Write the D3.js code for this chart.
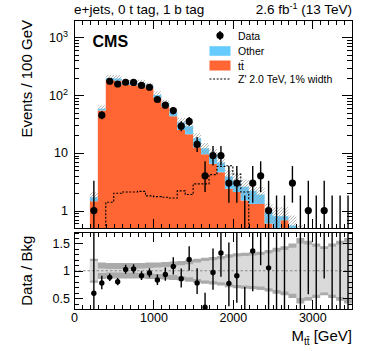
<!DOCTYPE html>
<html><head><meta charset="utf-8">
<script src="https://cdn.jsdelivr.net/npm/d3@7"></script>
<style>body{margin:0;background:#fff}svg{display:block}text{font-family:"Liberation Sans",Arial,Helvetica,sans-serif}</style>
</head><body><div id="chart"></div>
<script>
// ---- data (bins of 100 GeV, lower edges) ----
const binLow = [200,300,400,500,600,700,800,900,1000,1100,1200,1300,1400,1500,1600,1700,1800,1900,2000,2100,2200,2300,2400,2500,2600,2700,2800,2900,3000,3100,3200,3300,3400];
const binWidth = 100;
const dataCounts = [1,45,174,156,167,166,147,137,84,67,54,29,35,14,4,9,9,3,3,0,3,4,1,0,0,3,0,1,0,1,0,0,0];
const ttbar = [1.45,54,182,178,150,148,149,131,90,63,43,25,21,12.5,9.5,6.5,4.6,2.4,2.1,1.5,1.3,1.3,0.6,0.3,0.68,0.2,0.1,0.05,0.05,0.05,0.05,0.05,0.04];
const other = [0.25,4,16,17,13,13,13,12,11,9,7,9,8,5.5,2.5,2.8,2.2,1.5,1.2,1.1,0.9,0.6,0.35,0.5,0.12,0.35,0.25,0.25,0.2,0.15,0.13,0.1,0.08];
const zprime = [0.05,0.3,1.4,2.0,2.1,2.1,2.15,1.8,1.75,1.7,1.65,2.2,1.9,2.9,2.9,4.2,5.8,6.0,4.3,2.1,0.3,0.1,0.05,0.03,0.02,0.02,0.01,0.01,0.01,0.01,0.01,0.01,0.01];
const uncOuter = [0.22,0.15,0.14,0.14,0.14,0.14,0.14,0.15,0.15,0.16,0.17,0.18,0.2,0.22,0.24,0.25,0.27,0.3,0.32,0.33,0.34,0.35,0.38,0.42,0.45,0.5,0.6,0.55,0.5,0.45,0.5,0.55,0.6];
const uncInner = [0.18,0.04,0.03,0.03,0.03,0.03,0.04,0.05,0.06,0.07,0.08,0.1,0.12,0.15,0.18,0.19,0.21,0.24,0.26,0.27,0.28,0.29,0.32,0.35,0.38,0.42,0.5,0.48,0.44,0.4,0.44,0.48,0.52];
const xMajorTicks = [0,1000,2000,3000];
const yMainLabels = [1,10,100,1000];
const yRatioLabels = [0.5,1,1.5];
const legendLabels = ["Data","Other","t\u0074\u0304","Z' 2.0 TeV, 1% width"];

const colTT = "#ff6633", colOther = "#66ccff";
const W = 374, H = 351;
const total = ttbar.map((t,i)=>t+other[i]);

const svg = d3.select("#chart").append("svg").attr("width",W).attr("height",H);
const defs = svg.append("defs");
const pat = defs.append("pattern").attr("id","hatch").attr("patternUnits","userSpaceOnUse").attr("width",3).attr("height",3);
pat.append("path").attr("d","M-1,1 l2,-2 M0,3 l3,-3 M2,4 l2,-2").attr("stroke","#999").attr("stroke-width",0.7);

const L=74,R=352,T=20,B=228,RT=232.5,RB=309;
const x = d3.scaleLinear().domain([0,3500]).range([L,R]);
const yM = d3.scaleLog().domain([0.5,2000]).range([B,T]);
const yR = d3.scaleLinear().domain([0.3,1.7]).range([RB,RT]);

defs.append("clipPath").attr("id","cm").append("rect").attr("x",L).attr("y",T).attr("width",R-L).attr("height",B-T);
defs.append("clipPath").attr("id","cr").append("rect").attr("x",L).attr("y",RT).attr("width",R-L).attr("height",RB-RT);

const steps = arr => { const p = binLow.map((b,i)=>({x:b, v:arr[i], i})); p.push({x:binLow[binLow.length-1]+binWidth, v:arr[arr.length-1], i:arr.length-1}); return p; };
const yc = v => yM(Math.max(v,0.01));

const gm = svg.append("g").attr("clip-path","url(#cm)");
// ttbar
gm.append("path").datum(steps(ttbar)).attr("fill",colTT)
  .attr("d", d3.area().curve(d3.curveStepAfter).x(d=>x(d.x)).y0(B+5).y1(d=>yc(d.v)));
// other
gm.append("path").datum(steps(total)).attr("fill",colOther)
  .attr("d", d3.area().curve(d3.curveStepAfter).x(d=>x(d.x)).y0(d=>yc(ttbar[d.i])).y1(d=>yc(d.v)));
// hatched uncertainty
gm.append("path").datum(steps(total)).attr("fill","url(#hatch)")
  .attr("d", d3.area().curve(d3.curveStepAfter).x(d=>x(d.x))
     .y0(d=>yc(Math.max(ttbar[d.i], d.v*(1-uncOuter[d.i])))).y1(d=>yc(d.v*(1+uncOuter[d.i]))));
// Z' signal
gm.append("path").datum(steps(zprime)).attr("fill","none").attr("stroke","#000").attr("stroke-width",1.1).attr("stroke-dasharray","2,1.6")
  .attr("d", d3.line().curve(d3.curveStepAfter).x(d=>x(d.x)).y(d=>yc(d.v)));

// Poisson (Garwood approx) intervals
const lowErr = n => n<=0 ? 0 : n*Math.pow(1-1/(9*n)-1/(3*Math.sqrt(n)),3);
const highErr = n => (n+1)*Math.pow(1-1/(9*(n+1))+1/(3*Math.sqrt(n+1)),3);
const pts = binLow.map((b,i)=>({c:b+binWidth/2, n:dataCounts[i], lo:lowErr(dataCounts[i]), hi:highErr(dataCounts[i]), bkg:total[i]}));

gm.selectAll("line.err").data(pts).join("line").attr("stroke","#000").attr("stroke-width",1.4)
  .attr("x1",d=>x(d.c)).attr("x2",d=>x(d.c)).attr("y1",d=>yc(d.lo)).attr("y2",d=>yc(d.hi));
gm.selectAll("circle").data(pts.filter(d=>d.n>0)).join("circle").attr("r",3.6)
  .attr("cx",d=>x(d.c)).attr("cy",d=>yM(d.n)).attr("fill","#000");

// ratio panel
const gr = svg.append("g").attr("clip-path","url(#cr)");
const rs = steps(uncOuter);
gr.append("path").datum(rs).attr("fill","#ababab")
  .attr("d", d3.area().curve(d3.curveStepAfter).x(d=>x(d.x)).y0(d=>yR(1-d.v)).y1(d=>yR(1+d.v)));
gr.append("path").datum(steps(uncInner)).attr("fill","#dadada")
  .attr("d", d3.area().curve(d3.curveStepAfter).x(d=>x(d.x)).y0(d=>yR(1-d.v)).y1(d=>yR(1+d.v)));
gr.append("line").attr("x1",L).attr("x2",R).attr("y1",yR(1)).attr("y2",yR(1)).attr("stroke","#888").attr("stroke-width",1).attr("stroke-dasharray","2.5,2");
gr.selectAll("line.rerr").data(pts).join("line").attr("stroke","#000").attr("stroke-width",1.4)
  .attr("x1",d=>x(d.c)).attr("x2",d=>x(d.c)).attr("y1",d=>yR(d.lo/d.bkg)).attr("y2",d=>yR(Math.min(d.hi/d.bkg,5)));
gr.selectAll("circle").data(pts.filter(d=>d.n>0)).join("circle").attr("r",2.7)
  .attr("cx",d=>x(d.c)).attr("cy",d=>yR(d.n/d.bkg)).attr("fill","#000");

// frames
[[T,B],[RT,RB]].forEach(([t,b])=>svg.append("rect").attr("x",L).attr("y",t).attr("width",R-L).attr("height",b-t)
  .attr("fill","none").attr("stroke","#000").attr("stroke-width",1).attr("shape-rendering","crispEdges"));

// ticks helper
function ticks(axisFn, scale, vals, len, transform){
  const g = svg.append("g").attr("transform",transform).attr("shape-rendering","crispEdges")
    .call(axisFn(scale).tickValues(vals).tickSize(-len).tickFormat(""));
  g.select(".domain").remove();
  g.selectAll("line").attr("stroke","#000").attr("stroke-width",1);
  return g;
}
const xMinor = d3.range(100,3500,100).filter(v=>v%1000!==0);
[[B,T],[RB,RT]].forEach(([b,t])=>{
  ticks(d3.axisBottom,x,xMajorTicks.filter(v=>v>0),9,`translate(0,${b})`);
  ticks(d3.axisBottom,x,xMinor,4.5,`translate(0,${b})`);
  ticks(d3.axisTop,x,xMajorTicks.filter(v=>v>0),9,`translate(0,${t})`);
  ticks(d3.axisTop,x,xMinor,4.5,`translate(0,${t})`);
});
const yMinor = yM.ticks().filter(v=>!yMainLabels.includes(v));
ticks(d3.axisLeft,yM,yMainLabels,10,`translate(${L},0)`);
ticks(d3.axisLeft,yM,yMinor,5,`translate(${L},0)`);
ticks(d3.axisRight,yM,yMainLabels,10,`translate(${R},0)`);
ticks(d3.axisRight,yM,yMinor,5,`translate(${R},0)`);
const rMinor = yR.ticks(14).filter(v=>!yRatioLabels.some(l=>Math.abs(l-v)<1e-6));
ticks(d3.axisLeft,yR,yRatioLabels,9,`translate(${L},0)`);
ticks(d3.axisLeft,yR,rMinor,4.5,`translate(${L},0)`);
ticks(d3.axisRight,yR,yRatioLabels,9,`translate(${R},0)`);
ticks(d3.axisRight,yR,rMinor,4.5,`translate(${R},0)`);

// labels
function labels(axisFn, scale, vals, transform, pad, fmt){
  const g = svg.append("g").attr("transform",transform)
    .call(axisFn(scale).tickValues(vals).tickSize(0).tickPadding(pad).tickFormat(fmt));
  g.select(".domain").remove();
  g.attr("font-family",null).attr("font-size",null);
  g.selectAll("text").attr("font-size",12.5).attr("fill","#000");
  return g;
}
labels(d3.axisBottom,x,xMajorTicks,`translate(0,${RB})`,4,d3.format("d"));
labels(d3.axisLeft,yR,yRatioLabels,`translate(${L},0)`,4,d=>String(d));
const gy = labels(d3.axisLeft,yM,yMainLabels,`translate(${L},0)`,6,d=>String(d));
gy.selectAll(".tick text").each(function(d){
  if(d>=100){
    const t = d3.select(this); t.text("");
    t.append("tspan").text("10");
    t.append("tspan").attr("dy",-5).attr("font-size",9).text(Math.round(Math.log10(d)));
  }
});

// titles
svg.append("text").attr("x",L).attr("y",14).attr("font-size",13.5).text("e+jets, 0 t tag, 1 b tag");
const lum = svg.append("text").attr("x",R).attr("y",14).attr("font-size",13.5).attr("text-anchor","end");
lum.append("tspan").text("2.6 fb");
lum.append("tspan").attr("dy",-5).attr("font-size",9).text("-1");
lum.append("tspan").attr("dy",5).text(" (13 TeV)");
svg.append("text").attr("x",92.5).attr("y",46.5).attr("font-size",16).attr("font-weight","bold").text("CMS");
svg.append("text").attr("transform","translate(32,20) rotate(-90)").attr("text-anchor","end").attr("font-size",15).text("Events / 100 GeV");
svg.append("text").attr("transform",`translate(32,${(RT+RB)/2}) rotate(-90)`).attr("text-anchor","middle").attr("font-size",15).text("Data / Bkg");
const xt = svg.append("text").attr("x",R).attr("y",341).attr("font-size",15).attr("text-anchor","end");
xt.append("tspan").text("M");
xt.append("tspan").attr("dy",4).attr("font-size",10).text("t\u0074\u0304");
xt.append("tspan").attr("dy",-4).text(" [GeV]");

// legend
const lg = svg.append("g").attr("font-size",10.5);
const lx = 209.5, lw = 21, tx = 238;
const rowsY = [35.5, 51, 65.5, 79];
lg.append("line").attr("x1",lx+lw/2).attr("x2",lx+lw/2).attr("y1",rowsY[0]-4.5).attr("y2",rowsY[0]+4.5).attr("stroke","#000").attr("stroke-width",1.4);
lg.append("circle").attr("cx",lx+lw/2).attr("cy",rowsY[0]).attr("r",3.6).attr("fill","#000");
lg.append("rect").attr("x",lx).attr("y",rowsY[1]-4.8).attr("width",lw).attr("height",9.6).attr("fill",colOther);
lg.append("rect").attr("x",lx).attr("y",rowsY[2]-5).attr("width",lw).attr("height",10).attr("fill",colTT);
lg.append("line").attr("x1",lx).attr("x2",lx+lw).attr("y1",rowsY[3]).attr("y2",rowsY[3]).attr("stroke","#000").attr("stroke-width",1.1).attr("stroke-dasharray","2,1.6");
legendLabels.forEach((s,i)=>lg.append("text").attr("x",tx).attr("y",rowsY[i]+4).text(s));
</script></body></html>
